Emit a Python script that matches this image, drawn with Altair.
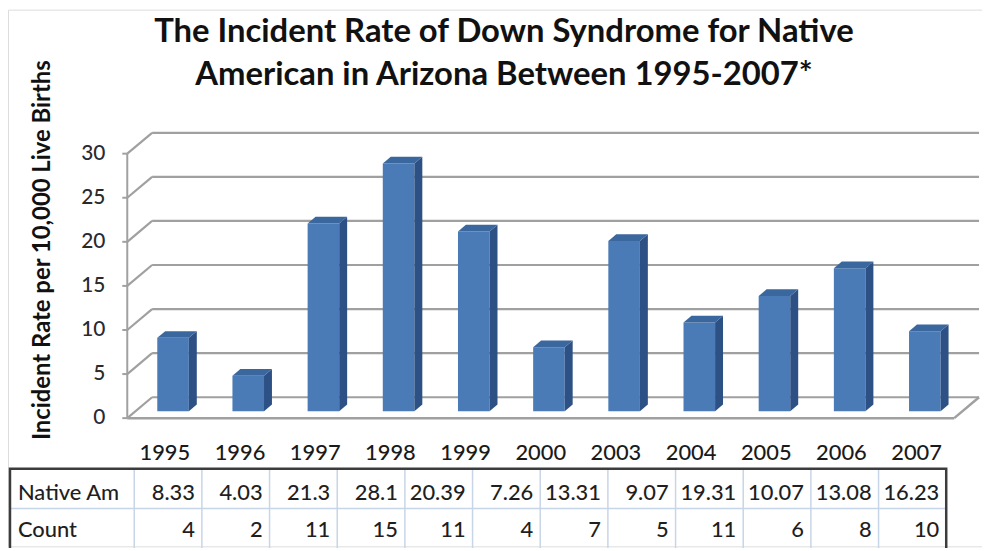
import altair as alt
import pandas as pd

# ---------------- data ----------------
years = ["1995", "1996", "1997", "1998", "1999", "2000", "2003", "2004", "2005", "2006", "2007"]
bar_rates = [8.33, 4.03, 21.3, 28.1, 20.39, 7.26, 19.31, 10.07, 13.08, 16.23, 9.07]
table_rates = ["8.33", "4.03", "21.3", "28.1", "20.39", "7.26", "13.31", "9.07", "19.31", "10.07", "13.08", "16.23"]
table_counts = ["4", "2", "11", "15", "11", "4", "7", "5", "11", "6", "8", "10"]
row_labels = ["Native Am", "Count"]
y_ticks = [0, 5, 10, 15, 20, 25, 30]
title_lines = ["The Incident Rate of Down Syndrome for Native", "American in Arizona Between 1995-2007*"]
y_title = "Incident Rate per 10,000 Live Births"

# ---------------- layout helpers ----------------
W, H = 980, 540          # chart canvas (autosize none, no padding)
ORG = 8                  # page margin
S = 75.64                # px per category slot (front plane)
U = 8.87                 # px per rate unit
X0, Y0 = 128, 419        # page px of front-left origin


def X(px):
    return (px - X0) / S


def Y(py):
    return (Y0 - py) / U


xs = alt.Scale(domain=[X(ORG), X(ORG + W)], nice=False, zero=False)
ys = alt.Scale(domain=[Y(ORG + H), Y(ORG)], nice=False, zero=False)

DX = 25 / S      # depth shift in x (slots)
DY = 21 / U      # depth shift in y (units)
F0, F1 = 0.33, 0.65
BW = 0.42
n = len(years)

GRID = "#a0a0a0"
FRONT = "#4a7bb7"
SIDE = "#2d5184"
TOP = "#3a679d"
FONT = "Lato"


def ex(f):
    return alt.X(f, scale=xs, axis=None, stack=None)


def ey(f):
    return alt.Y(f, scale=ys, axis=None, stack=None)


# ---------------- walls / axis ----------------
g = pd.DataFrame({"v": y_ticks})
g["bx0"] = DX
g["bx1"] = n + DX
g["by"] = g["v"] + DY
g["fx"] = 0.0
g["tx"] = -5 / S
g["lx"] = X(106)

back_grid = alt.Chart(g).mark_rule(color=GRID, strokeWidth=2.2).encode(
    x=ex("bx0:Q"), x2=alt.X2("bx1"), y=ey("by:Q"))
side_diag = alt.Chart(g).mark_rule(color=GRID, strokeWidth=2.2).encode(
    x=ex("fx:Q"), x2=alt.X2("bx0"), y=ey("v:Q"), y2=alt.Y2("by"))
ticks = alt.Chart(g).mark_rule(color=GRID, strokeWidth=2).encode(
    x=ex("tx:Q"), x2=alt.X2("fx"), y=ey("v:Q"))
tick_labels = alt.Chart(g).mark_text(align="right", baseline="middle", fontSize=21,
                                     font=FONT, fontWeight=500, color="#2a2a2a").encode(
    x=ex("lx:Q"), y=ey("v:Q"), text="v:Q")

ax = pd.DataFrame({"x": [0.0], "y": [0.0], "y2": [float(max(y_ticks))]})
axis_line = alt.Chart(ax).mark_rule(color=GRID, strokeWidth=2).encode(
    x=ex("x:Q"), y=ey("y:Q"), y2=alt.Y2("y2"))

fl = pd.DataFrame({"x": [0.0, float(n)], "x2": [float(n), n + DX], "y": [0.0, 0.0], "y2": [0.0, DY]})
floor = alt.Chart(fl).mark_rule(color=GRID, strokeWidth=2.5).encode(
    x=ex("x:Q"), x2=alt.X2("x2"), y=ey("y:Q"), y2=alt.Y2("y2"))

# ---------------- bars ----------------
b = pd.DataFrame({"year": years, "v": bar_rates})
b["i"] = range(n)
b["xl"] = b["i"] + 0.5 - BW / 2 + F0 * DX
b["xr"] = b["xl"] + BW
b["y0"] = F0 * DY
b["y1"] = b["v"] + F0 * DY
front = alt.Chart(b).mark_rect(color=FRONT).encode(
    x=ex("xl:Q"), x2=alt.X2("xr"), y=ey("y0:Q"), y2=alt.Y2("y1"))

side_rows, top_rows = [], []
for _, r in b.iterrows():
    d = (F1 - F0) * DX
    side_rows.append({"bar": r["year"], "x": r["xr"], "ya": r["v"] + F0 * DY, "yb": F0 * DY})
    side_rows.append({"bar": r["year"], "x": r["xr"] + d, "ya": r["v"] + F1 * DY, "yb": F1 * DY})
    top_rows.append({"bar": r["year"], "y": r["v"] + F0 * DY, "xa": r["xl"], "xb": r["xr"]})
    top_rows.append({"bar": r["year"], "y": r["v"] + F1 * DY, "xa": r["xl"] + d, "xb": r["xr"] + d})
side = alt.Chart(pd.DataFrame(side_rows)).mark_area(color=SIDE).encode(
    x=ex("x:Q"), y=ey("ya:Q"), y2=alt.Y2("yb"), detail="bar:N")
top = alt.Chart(pd.DataFrame(top_rows)).mark_area(color=TOP, orient="horizontal").encode(
    y=ey("y:Q"), x=ex("xa:Q"), x2=alt.X2("xb"), detail="bar:N")

# ---------------- category labels ----------------
yl = pd.DataFrame({"year": years})
yl["x"] = [i + 0.5 for i in range(n)]
yl["y"] = Y(454)
year_labels = alt.Chart(yl).mark_text(fontSize=22, font=FONT, fontWeight=500, color="#1a1a1a",
                                      baseline="middle").encode(
    x=ex("x:Q"), y=ey("y:Q"), text="year:N")

# ---------------- data table ----------------
TL, TR, LABR = 10, 952, 135
TT, TM, TB = 470, 510, 560
ncol = len(table_rates)
bounds = [LABR + (TR - LABR) * k / ncol for k in range(ncol + 1)]

vd = pd.DataFrame({"x": [X(p) for p in bounds[:-1]]})
vd["y"] = Y(TT)
vd["y2"] = Y(TB)
v_div = alt.Chart(vd).mark_rule(color="#c7d5e8", strokeWidth=1.5).encode(
    x=ex("x:Q"), y=ey("y:Q"), y2=alt.Y2("y2"))
hd = pd.DataFrame({"x": [X(TL)], "x2": [X(TR)], "y": [Y(TM)]})
h_div = alt.Chart(hd).mark_rule(color="#c7d5e8", strokeWidth=1.5).encode(
    x=ex("x:Q"), x2=alt.X2("x2"), y=ey("y:Q"))
bd = pd.DataFrame({"x": [X(TL)], "x2": [X(TR)], "y": [Y(TT)], "y2": [Y(TB)]})
border = alt.Chart(bd).mark_rect(fillOpacity=0, stroke="#3c3c3c", strokeWidth=2.5).encode(
    x=ex("x:Q"), x2=alt.X2("x2"), y=ey("y:Q"), y2=alt.Y2("y2"))

cells = []
row_y = [Y(494), Y(532)]
for k in range(ncol):
    cells.append({"t": table_rates[k], "x": X(bounds[k + 1] - 7), "y": row_y[0]})
    cells.append({"t": table_counts[k], "x": X(bounds[k + 1] - 7), "y": row_y[1]})
cell_text = alt.Chart(pd.DataFrame(cells)).mark_text(
    align="right", baseline="middle", fontSize=22, font=FONT, fontWeight=500, color="#1f1f1f").encode(
    x=ex("x:Q"), y=ey("y:Q"), text="t:N")
rl = pd.DataFrame({"t": row_labels, "x": [X(18)] * 2, "y": row_y})
row_text = alt.Chart(rl).mark_text(
    align="left", baseline="middle", fontSize=22, font=FONT, fontWeight=500, color="#1f1f1f").encode(
    x=ex("x:Q"), y=ey("y:Q"), text="t:N")

# ---------------- titles ----------------
tt = pd.DataFrame({"t": title_lines, "x": [X(507)] * 2, "y": [Y(41), Y(84)]})
title = alt.Chart(tt).mark_text(
    align="center", baseline="alphabetic", fontSize=33, fontWeight="bold", font=FONT,
    color="#111111").encode(x=ex("x:Q"), y=ey("y:Q"), text="t:N")
yt = pd.DataFrame({"t": [y_title], "x": [X(43)], "y": [Y(250)]})
ytitle = alt.Chart(yt).mark_text(
    align="center", baseline="middle", angle=270, fontSize=24, fontWeight="bold", font=FONT,
    color="#111111").encode(x=ex("x:Q"), y=ey("y:Q"), text="t:N")

chart = alt.layer(
    back_grid, side_diag, ticks, axis_line, floor,
    front, side, top,
    tick_labels, year_labels,
    v_div, h_div, border, cell_text, row_text,
    title, ytitle,
).properties(
    width=W, height=H, autosize=alt.AutoSizeParams(type="none"), padding=0,
).configure_view(stroke=None).configure(background="white")

chart.save("out.html", embed_options={"renderer": "svg", "actions": False})
